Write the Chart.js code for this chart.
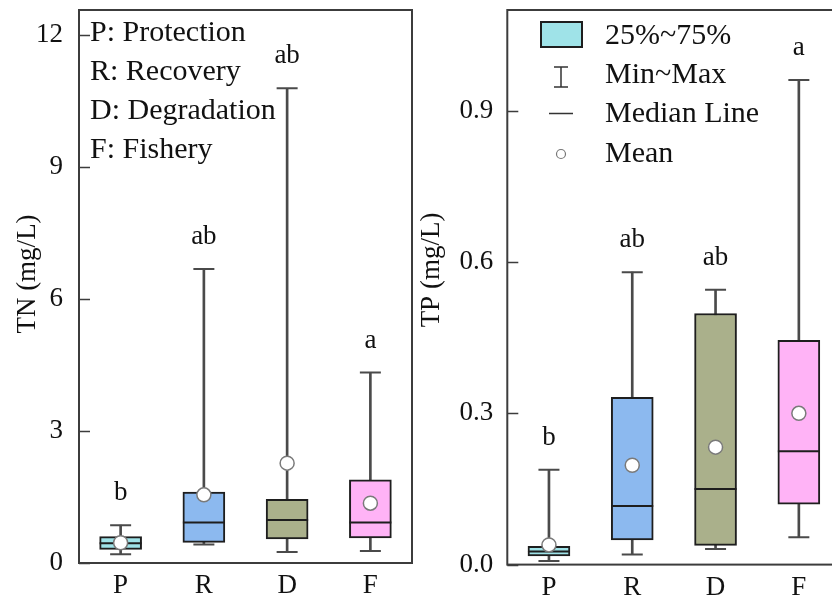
<!DOCTYPE html>
<html>
<head>
<meta charset="utf-8">
<script src="https://cdn.jsdelivr.net/npm/chart.js@4.4.0/dist/chart.umd.min.js"></script>
<style>
  html, body { margin: 0; padding: 0; overflow: hidden; background: #fff; width: 832px; height: 604px; }
  #tn { position: absolute; left: 0; top: 0; }
  #tp { position: absolute; left: 420px; top: 0; }
</style>
</head>
<body>
<canvas id="tn" width="420" height="604"></canvas>
<canvas id="tp" width="430" height="604"></canvas>
<script>
// Sites
const categories = ['P', 'R', 'D', 'F'];
const siteNames = ['P: Protection', 'R: Recovery', 'D: Degradation', 'F: Fishery'];
const boxColors = ['#9fe3e8', '#8cb9ef', '#aab08b', '#ffb3f6'];

// Total nitrogen (mg/L)
const tnMin    = [0.20, 0.42, 0.25, 0.27];
const tnQ1     = [0.31, 0.47, 0.55, 0.57];
const tnMedian = [0.45, 0.92, 0.98, 0.92];
const tnQ3     = [0.60, 1.61, 1.45, 1.89];
const tnMax    = [0.86, 6.68, 10.79, 4.33];
const tnMean   = [0.46, 1.55, 2.27, 1.36];
const tnLetters = ['b', 'ab', 'ab', 'a'];
const tnTicks  = [0, 3, 6, 9, 12];

// Total phosphorus (mg/L)
const tpMin    = [0.007, 0.020, 0.031, 0.054];
const tpQ1     = [0.017, 0.049, 0.038, 0.120];
const tpMedian = [0.026, 0.116, 0.150, 0.225];
const tpQ3     = [0.036, 0.332, 0.498, 0.445];
const tpMax    = [0.188, 0.580, 0.545, 0.961];
const tpMean   = [0.039, 0.197, 0.233, 0.300];
const tpLetters = ['b', 'ab', 'ab', 'a'];
const tpTicks  = [0, 0.3, 0.6, 0.9];

const SERIF = '"Liberation Serif", "Times New Roman", serif';
const INK = '#111';
const FRAME = '#3c3c3c';

Chart.defaults.font.family = SERIF;
Chart.defaults.color = INK;

function boxDatasets(min, q1, med, q3, max, mean) {
  const whisker = min.map((v, i) => [v, max[i]]);
  const box = q1.map((v, i) => [v, q3[i]]);
  return [
    { type: 'bar', label: 'whisker', data: whisker, grouped: false, order: 6,
      barThickness: 2, backgroundColor: '#4a4a4a', borderWidth: 0 },
    { type: 'line', label: 'max', data: max, showLine: false, order: 5,
      pointStyle: 'line', pointRadius: 10.5, borderColor: '#4a4a4a', pointBorderWidth: 2 },
    { type: 'line', label: 'min', data: min, showLine: false, order: 5,
      pointStyle: 'line', pointRadius: 10.5, borderColor: '#4a4a4a', pointBorderWidth: 2 },
    { type: 'bar', label: 'box', data: box, grouped: false, order: 3,
      barThickness: 42, backgroundColor: boxColors, borderColor: '#1e1e1e',
      borderWidth: 2, borderSkipped: false },
    { type: 'line', label: 'median', data: med, showLine: false, order: 2,
      pointStyle: 'line', pointRadius: 21, borderColor: '#1e1e1e', pointBorderWidth: 2 },
    { type: 'line', label: 'mean', data: mean, showLine: false, order: 1,
      pointStyle: 'circle', pointRadius: 7, pointBackgroundColor: '#fff',
      pointBorderColor: '#7a7a7a', pointBorderWidth: 1.5 }
  ];
}

// frame around the plot area with inward y tick marks
const framePlugin = {
  id: 'frame',
  afterDraw(chart) {
    const { ctx, chartArea: a, scales: { y } } = chart;
    ctx.save();
    ctx.strokeStyle = FRAME;
    ctx.lineWidth = 2;
    ctx.strokeRect(a.left, a.top, a.right - a.left, a.bottom - a.top);
    ctx.beginPath();
    y.ticks.forEach(t => {
      const py = Math.round(y.getPixelForValue(t.value)) + 0.5;
      ctx.moveTo(a.left, py);
      ctx.lineTo(a.left + 11, py);
    });
    ctx.lineWidth = 1.5;
    ctx.stroke();
    ctx.restore();
  }
};

// rotated y-axis title
function yTitlePlugin(text, cx, cy) {
  return {
    id: 'yTitle',
    afterDraw(chart) {
      const { ctx } = chart;
      ctx.save();
      ctx.translate(cx, cy);
      ctx.rotate(-Math.PI / 2);
      ctx.font = '27px ' + SERIF;
      ctx.fillStyle = INK;
      ctx.textAlign = 'center';
      ctx.textBaseline = 'middle';
      ctx.fillText(text, 0, 0);
      ctx.restore();
    }
  };
}

// significance letters above each whisker
function lettersPlugin(letters, max) {
  return {
    id: 'letters',
    afterDatasetsDraw(chart) {
      const { ctx, scales: { x, y } } = chart;
      ctx.save();
      ctx.font = '27px ' + SERIF;
      ctx.fillStyle = INK;
      ctx.textAlign = 'center';
      ctx.textBaseline = 'middle';
      letters.forEach((s, i) => {
        ctx.fillText(s, x.getPixelForValue(i), y.getPixelForValue(max[i]) - 32);
      });
      ctx.restore();
    }
  };
}

// list of site abbreviations
const siteKeyPlugin = {
  id: 'siteKey',
  afterDraw(chart) {
    const { ctx } = chart;
    ctx.save();
    ctx.font = '30px ' + SERIF;
    ctx.fillStyle = INK;
    ctx.textAlign = 'left';
    ctx.textBaseline = 'middle';
    siteNames.forEach((s, i) => ctx.fillText(s, 90, 33 + i * 39.2));
    ctx.restore();
  }
};

// box-plot symbol key
const symbolKeyPlugin = {
  id: 'symbolKey',
  afterDraw(chart) {
    const { ctx } = chart;
    const cx = 141, tx = 185;
    ctx.save();
    ctx.fillStyle = boxColors[0];
    ctx.fillRect(121, 22, 41, 25);
    ctx.strokeStyle = '#1e1e1e';
    ctx.lineWidth = 2;
    ctx.strokeRect(121, 22, 41, 25);
    ctx.strokeStyle = '#333';
    ctx.lineWidth = 1.5;
    ctx.beginPath();
    ctx.moveTo(cx, 67); ctx.lineTo(cx, 87);
    ctx.moveTo(cx - 7, 67); ctx.lineTo(cx + 7, 67);
    ctx.moveTo(cx - 7, 87); ctx.lineTo(cx + 7, 87);
    ctx.moveTo(129, 113.5); ctx.lineTo(153, 113.5);
    ctx.stroke();
    ctx.beginPath();
    ctx.arc(cx, 154, 4.5, 0, Math.PI * 2);
    ctx.fillStyle = '#fff';
    ctx.fill();
    ctx.strokeStyle = '#777';
    ctx.lineWidth = 1.2;
    ctx.stroke();
    ctx.font = '30px ' + SERIF;
    ctx.fillStyle = INK;
    ctx.textAlign = 'left';
    ctx.textBaseline = 'middle';
    ['25%~75%', 'Min~Max', 'Median Line', 'Mean'].forEach((s, i) => {
      ctx.fillText(s, tx, 36 + i * 39.3);
    });
    ctx.restore();
  }
};

function makeChart(id, cfg) {
  return new Chart(document.getElementById(id), {
    data: {
      labels: categories,
      datasets: boxDatasets(cfg.min, cfg.q1, cfg.med, cfg.q3, cfg.max, cfg.mean)
    },
    options: {
      responsive: false,
      animation: false,
      devicePixelRatio: 1,
      layout: {
        autoPadding: false,
        padding: { top: 10, right: cfg.padRight, left: 0, bottom: 0 }
      },
      plugins: { legend: { display: false }, tooltip: { enabled: false } },
      scales: {
        x: {
          type: 'category',
          offset: true,
          grid: { display: false, drawTicks: false },
          border: { display: false },
          ticks: { font: { size: 27 }, color: INK, padding: 7 },
          afterFit(s) {
            s.height = cfg.xHeight;
            s.paddingLeft = 0; s.paddingRight = 0;
          }
        },
        y: {
          type: 'linear',
          min: 0,
          max: cfg.yMax,
          grid: { display: false, drawTicks: false },
          border: { display: false },
          afterBuildTicks(s) { s.ticks = cfg.ticks.map(v => ({ value: v })); },
          ticks: {
            font: { size: 27 }, color: INK, padding: cfg.tickPad,
            callback: cfg.fmt
          },
          afterFit(s) {
            s.width = cfg.yWidth;
            s.paddingTop = 0; s.paddingBottom = 0;
          }
        }
      }
    },
    plugins: [framePlugin, lettersPlugin(cfg.letters, cfg.max),
              yTitlePlugin(cfg.title, cfg.titleX, cfg.titleY)].concat(cfg.extra)
  });
}

makeChart('tn', {
  min: tnMin, q1: tnQ1, med: tnMedian, q3: tnQ3, max: tnMax, mean: tnMean,
  letters: tnLetters, ticks: tnTicks, yMax: 12.57,
  fmt: v => String(v), title: 'TN (mg/L)', titleX: 28, titleY: 274,
  yWidth: 79, xHeight: 41, padRight: 8, tickPad: 16,
  extra: [siteKeyPlugin]
});

makeChart('tp', {
  min: tpMin, q1: tpQ1, med: tpMedian, q3: tpQ3, max: tpMax, mean: tpMean,
  letters: tpLetters, ticks: tpTicks, yMax: 1.1,
  fmt: v => Number(v).toFixed(1), title: 'TP (mg/L)', titleX: 12, titleY: 270,
  yWidth: 87.3, xHeight: 39.4, padRight: 9.5, tickPad: 14,
  extra: [symbolKeyPlugin]
});
</script>
</body>
</html>
